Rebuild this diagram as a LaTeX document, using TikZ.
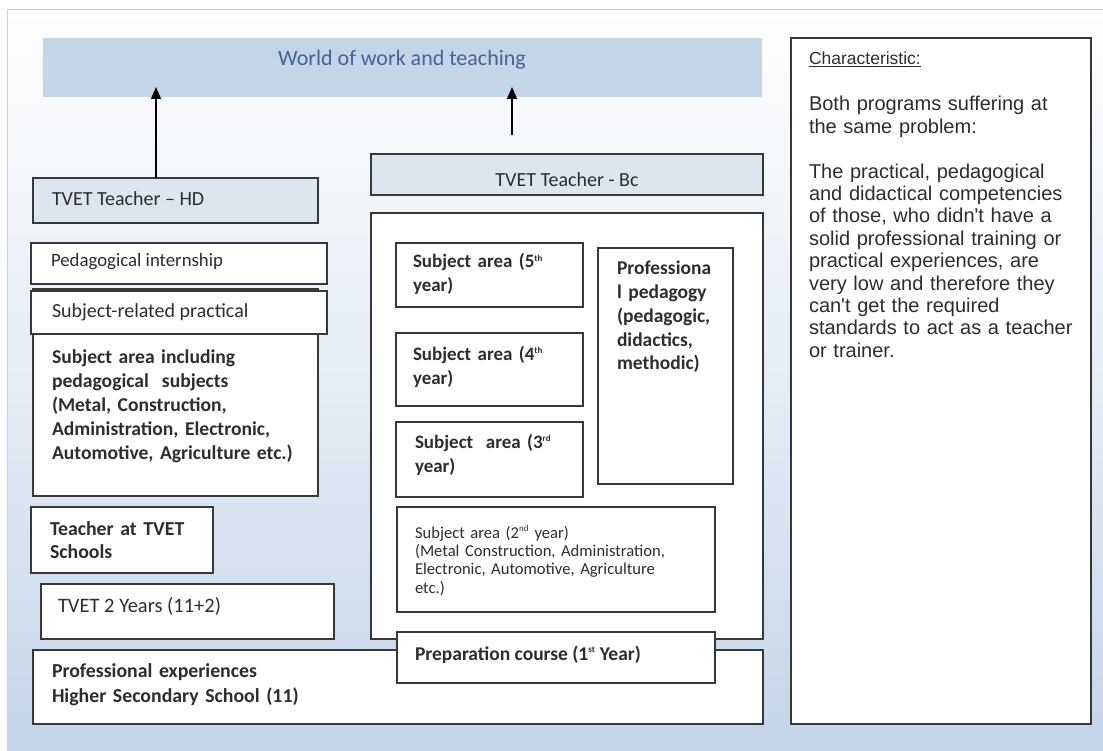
\documentclass[tikz,border=0pt]{standalone}
\usepackage{fontspec}
\setmainfont{Carlito}
\newfontfamily\arialfont{Liberation Sans}
\usetikzlibrary{arrows.meta}
\definecolor{bgblue}{RGB}{196,213,233}
\definecolor{bannerblue}{RGB}{197,213,232}
\definecolor{headfill}{RGB}{221,229,240}
\definecolor{bannertext}{RGB}{70,100,150}
\definecolor{frameline}{RGB}{200,206,214}
\definecolor{boxline}{RGB}{55,55,60}
\definecolor{inktext}{RGB}{45,45,45}
% small raised ordinal suffix
\newcommand{\ordsup}[1]{\textsuperscript{\fontsize{9}{9}\selectfont #1}}
\tikzset{
  box/.style={draw=boxline, line width=1.4pt, fill=white, rectangle,
    inner sep=0pt, outer sep=0pt, anchor=north west},
  headbox/.style={box, fill=headfill},
  lbl/.style={anchor=base west, inner sep=0pt, outer sep=0pt, text=inktext,
    align=left},
  uparrow/.style={line width=1.6pt, -{Triangle[width=10pt,length=12pt]}},
}
\begin{document}
\begin{tikzpicture}[x=1pt,y=-1pt]
  \useasboundingbox (0,0) rectangle (1103,751);
  % background panel with its vertical gradient
  \shade[top color=white, bottom color=bgblue, middle color=white!55!bgblue]
    (7,9) rectangle (1103,751);
  \draw[frameline, line width=0.8pt] (1103,9) -- (7,9) -- (7,751);

  % top banner
  \node[anchor=north west, fill=bannerblue, minimum width=719pt,
    minimum height=59pt, inner sep=0pt] (banner) at (43,38) {};
  \node[anchor=base, text=bannertext, font=\fontsize{22}{24}\selectfont,
    inner sep=0pt] (bannert) at (402,66) {World of work and teaching};

  % ---------- HD programme (left column) ----------
  \node[headbox, minimum width=285pt, minimum height=45pt] (hd) at (33,178) {};
  \node[lbl, font=\fontsize{20}{24}\selectfont] (hdt) at (52,206)
    {TVET Teacher -- HD};

  \node[box, minimum width=296pt, minimum height=41pt] (intern) at (31,243) {};
  \node[lbl, font=\fontsize{18.8}{24}\selectfont] (internt) at (51,267)
    {Pedagogical internship};

  \node[box, minimum width=285pt, minimum height=207pt] (subj) at (33,289) {};
  \node[box, minimum width=296pt, minimum height=43pt] (pract) at (31,291) {};
  \node[lbl, font=\fontsize{20}{24}\selectfont] (practt) at (52,317)
    {Subject-related practical};
  \node[lbl, text width=262pt, font=\bfseries\fontsize{19.6}{24}\selectfont]
    (subjt) at (52,363)
    {Subject area including\\pedagogical~ subjects\\(Metal, Construction,\\
     Administration, Electronic,\\Automotive, Agriculture etc.)};

  \node[box, minimum width=182pt, minimum height=66pt] (teach) at (31,507) {};
  \node[lbl, text width=170pt, font=\bfseries\fontsize{19.8}{23}\selectfont]
    (teacht) at (50,535) {Teacher at TVET\\Schools};

  \node[box, minimum width=293pt, minimum height=55pt] (tvet) at (41,584) {};
  \node[lbl, font=\fontsize{20.5}{24}\selectfont] (tvett) at (58,612)
    {TVET 2 Years (11+2)};

  \node[box, minimum width=730pt, minimum height=74pt] (prof) at (33,650) {};
  \node[lbl, text width=400pt, font=\bfseries\fontsize{19.8}{25}\selectfont]
    (proft) at (52,677)
    {Professional experiences\\Higher Secondary School (11)};

  % ---------- Bc programme (middle column) ----------
  \node[headbox, minimum width=392pt, minimum height=41pt] (bc) at (371,154) {};
  \node[anchor=base, inner sep=0pt, text=inktext,
    font=\fontsize{20}{24}\selectfont] (bct) at (567,187) {TVET Teacher - Bc};

  \node[box, minimum width=392pt, minimum height=426pt] (cont) at (371,213) {};

  \node[box, minimum width=187pt, minimum height=64pt] (y5) at (396,243) {};
  \node[lbl, text width=170pt, font=\bfseries\fontsize{19}{24}\selectfont]
    (y5t) at (413,268) {Subject area (5\ordsup{th}\\year)};

  \node[box, minimum width=187pt, minimum height=73pt] (y4) at (396,333) {};
  \node[lbl, text width=170pt, font=\bfseries\fontsize{19}{24}\selectfont]
    (y4t) at (413,360) {Subject area (4\ordsup{th}\\year)};

  \node[box, minimum width=187pt, minimum height=75pt] (y3) at (396,422) {};
  \node[lbl, text width=170pt, font=\bfseries\fontsize{19}{24}\selectfont]
    (y3t) at (415,448) {Subject~ area (3\ordsup{rd}\\year)};

  \node[box, minimum width=135pt, minimum height=236pt] (ped) at (598,248) {};
  \node[lbl, text width=125pt, font=\bfseries\fontsize{19.5}{23.7}\selectfont]
    (pedt) at (617,275)
    {Professiona\\l pedagogy\\(pedagogic,\\didactics,\\methodic)};

  \node[box, minimum width=318pt, minimum height=105pt] (y2) at (397,507) {};
  \node[lbl, text width=300pt, font=\fontsize{16.6}{18.4}\selectfont]
    (y2t) at (415,538)
    {Subject area (2\ordsup{nd} year)\\
     (Metal Construction, Administration,\\
     Electronic, Automotive, Agriculture\\etc.)};

  \node[box, minimum width=318pt, minimum height=51pt] (prep) at (397,632) {};
  \node[lbl, font=\bfseries\fontsize{19.5}{24}\selectfont] (prept) at (415,660)
    {Preparation course (1\ordsup{st} Year)};

  % ---------- characteristic panel (right column) ----------
  \node[box, minimum width=300pt, minimum height=686pt] (note) at (791,38) {};
  \node[lbl, font=\arialfont\fontsize{17.5}{20}\selectfont] (notehead) at (809,65)
    {\underline{Characteristic:}};
  \node[lbl, text width=285pt, font=\arialfont\fontsize{20}{22.4}\selectfont]
    (notebody) at (809,111)
    {Both programs suffering at\\the same problem:\\[22.4pt]
     The practical, pedagogical\\and didactical competencies\\
     of those, who didn't have a\\solid professional training or\\
     practical experiences, are\\very low and therefore they\\
     can't get the required\\standards to act as a teacher\\or trainer.};

  % ---------- arrows into the banner ----------
  \coordinate (hdtail) at (156,178);
  \coordinate (bctail) at (512,135);
  \coordinate (hdtip) at (156,87);
  \coordinate (bctip) at (512,87);
  \draw[uparrow] (hdtail) -- (hdtip);
  \draw[uparrow] (bctail) -- (bctip);
\end{tikzpicture}
\end{document}
